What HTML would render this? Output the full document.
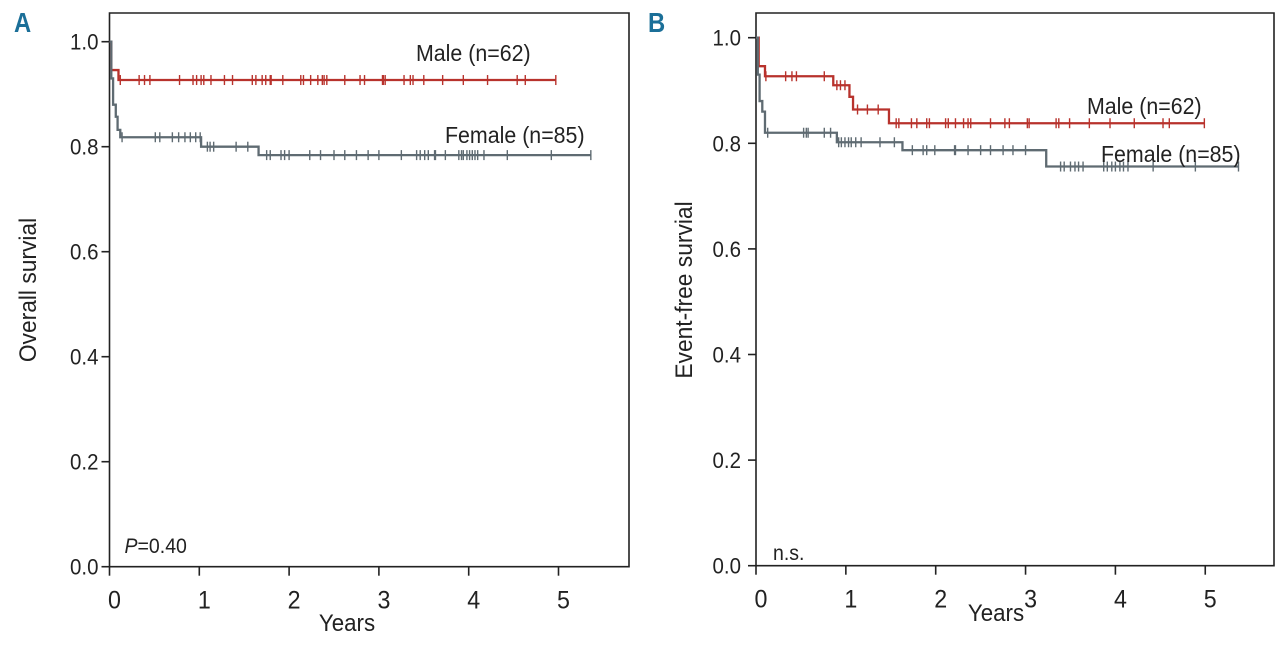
<!DOCTYPE html>
<html><head><meta charset="utf-8"><style>
body{margin:0;background:#fff;}
svg text{font-family:"Liberation Sans Narrow","Liberation Sans",sans-serif;fill:#222;}
</style></head><body>
<svg id="chart" width="1280" height="640" viewBox="0 0 1280 640" xmlns="http://www.w3.org/2000/svg"></svg>
<script>
// Panel A data (years, survival)
const aMaleSteps=[[0,1.0],[0.02,0.946],[0.1,0.927]];
const aMaleEnd=4.97;
const aMaleCensor=[0.12,0.33,0.39,0.45,0.78,0.93,0.97,1.02,1.05,1.13,1.28,1.37,1.59,1.63,1.70,1.74,1.79,1.80,1.93,2.13,2.16,2.24,2.32,2.37,2.39,2.42,2.62,2.79,2.84,3.04,3.05,3.07,3.28,3.35,3.38,3.50,3.71,3.94,4.21,4.54,4.63,4.97];
const aFemaleSteps=[[0,1.0],[0.02,0.93],[0.04,0.88],[0.07,0.857],[0.09,0.832],[0.12,0.818],[1.02,0.800],[1.66,0.784]];
const aFemaleEnd=5.36;
const aFemaleCensor=[0.14,0.51,0.56,0.70,0.77,0.84,0.90,0.96,1.01,1.09,1.12,1.16,1.41,1.54,1.75,1.79,1.91,1.95,2.00,2.23,2.35,2.50,2.62,2.75,2.88,3.00,3.25,3.42,3.46,3.51,3.55,3.62,3.63,3.74,3.89,3.92,3.94,3.98,4.01,4.04,4.07,4.10,4.17,4.43,4.92,5.36];
// Panel B data
const bMaleSteps=[[0,1.0],[0.03,0.946],[0.10,0.927],[0.86,0.910],[1.04,0.888],[1.08,0.864],[1.48,0.838]];
const bMaleEnd=4.99;
const bMaleCensor=[0.11,0.33,0.40,0.45,0.76,0.90,0.94,0.99,1.13,1.24,1.36,1.56,1.59,1.73,1.79,1.90,1.93,2.11,2.14,2.22,2.31,2.36,2.39,2.61,2.77,2.82,3.02,3.04,3.34,3.37,3.49,3.71,3.94,4.21,4.53,4.60,4.99];
const bFemaleSteps=[[0,1.0],[0.02,0.93],[0.04,0.88],[0.07,0.86],[0.10,0.820],[0.90,0.802],[1.63,0.787],[3.23,0.756]];
const bFemaleEnd=5.37;
const bFemaleCensor=[0.13,0.53,0.56,0.58,0.76,0.83,0.92,0.95,0.99,1.03,1.06,1.11,1.17,1.38,1.54,1.74,1.86,1.90,1.99,2.21,2.22,2.36,2.50,2.61,2.75,2.86,3.00,3.39,3.43,3.50,3.55,3.59,3.64,3.87,3.91,3.96,4.00,4.05,4.09,4.14,4.42,4.89,5.37];
const xTicks=[0,1,2,3,4,5];
const yTicks=[0.0,0.2,0.4,0.6,0.8,1.0];

const NS="http://www.w3.org/2000/svg";
const svg=document.getElementById('chart');
function mk(tag,attrs,parent){const e=document.createElementNS(NS,tag);for(const k in attrs)e.setAttribute(k,attrs[k]);(parent||svg).appendChild(e);return e;}
function txt(s,x,y,size,anchor,parent,extra,rot,sx){
  sx=sx||0.93;
  const tr=rot?`translate(${x},${y}) rotate(-90) scale(${sx},1)`:`translate(${x},${y}) scale(${sx},1)`;
  const t=mk('text',Object.assign({x:0,y:0,'font-size':size,'text-anchor':anchor||'start',transform:tr},extra||{}),parent);
  t.textContent=s;return t;}

function panel(o){
  const g=mk('g',{});
  
  
  const X=v=>o.x0+v*o.px;
  const Y=v=>o.y0-v*o.py;
  const frame=mk('path',{d:`M${o.x0},${o.top} H${o.right} V${o.y0} H${o.x0} Z`,fill:'none',stroke:'#222','stroke-width':1.6},g);
  
  
  yTicks.forEach(v=>{
    const l=mk('line',{x1:o.x0-8,x2:o.x0,y1:Y(v),y2:Y(v),stroke:'#222','stroke-width':1.6},g);
    
    
    const t=txt(v.toFixed(1),o.x0-o.tickGap,Y(v)+8,22,'end',g);
    
    
  });
  xTicks.forEach(v=>{
    const l=mk('line',{x1:X(v),x2:X(v),y1:o.y0,y2:o.y0+9,stroke:'#222','stroke-width':1.6},g);
    
    
    const t=txt(String(v),X(v)+5,o.y0+42,25,'middle',g);
    
    
  });
  const xt=txt('Years',o.xTitleX,o.xTitleY,24,'middle',g);
  
  
  const yt=txt(o.yTitle,o.yTitleX,290,24,'middle',g,null,true,0.95);
  
  
  o.series.forEach(s=>{
    let d='';
    s.steps.forEach((p,i)=>{
      if(i===0)d+=`M${X(p[0])},${Y(p[1])}`;
      else d+=` H${X(p[0])} V${Y(p[1])}`;
    });
    d+=` H${X(s.end)}`;
    const line=mk('path',{d:d,fill:'none',stroke:s.color,'stroke-width':2.3},g);
    
    
    const val=t=>{let v=s.steps[0][1];s.steps.forEach(p=>{if(p[0]<=t)v=p[1];});return v;};
    s.censor.forEach(t=>{
      const c=mk('line',{x1:X(t),x2:X(t),y1:Y(val(t))-5,y2:Y(val(t))+5,stroke:s.color,'stroke-width':1.4},g);
      
      
    });
    const lb=txt(s.label,s.lx,s.ly,23,'start',g);
    
    
  });
  const pl=mk('text',{x:0,y:0,'font-size':21,transform:`translate(${o.x0+o.pdx},${o.py0}) scale(0.93,1)`},g);
  
  
  pl.innerHTML=o.pText;
  const L=txt(o.letter,o.letterX,32,28,'start',g,{'font-weight':'bold',style:'fill:#1b6f98'},false,0.85);
  
  
}

panel({name:'panel-a-overall-survival',x0:109.5,y0:566.7,top:13,right:629,px:89.8,py:525,tickGap:11,
  yTitle:'Overall survial',yTitleX:36,xTitleX:347,xTitleY:631,letter:'A',letterX:14,
  pText:'<tspan font-style="italic">P</tspan>=0.40',pdx:15,py0:553,
  series:[
    {name:'male',steps:aMaleSteps,end:aMaleEnd,censor:aMaleCensor,color:'#b8322c',label:'Male (n=62)',lx:416,ly:61},
    {name:'female',steps:aFemaleSteps,end:aFemaleEnd,censor:aFemaleCensor,color:'#5f6b72',label:'Female (n=85)',lx:445,ly:143}
  ]});
panel({name:'panel-b-event-free-survival',x0:756,y0:565.7,top:13,right:1274,px:89.85,py:528,tickGap:15,
  yTitle:'Event-free survial',yTitleX:692,xTitleX:996,xTitleY:621,letter:'B',letterX:648,
  pText:'n.s.',pdx:17,py0:560,
  series:[
    {name:'male',steps:bMaleSteps,end:bMaleEnd,censor:bMaleCensor,color:'#b8322c',label:'Male (n=62)',lx:1087,ly:114},
    {name:'female',steps:bFemaleSteps,end:bFemaleEnd,censor:bFemaleCensor,color:'#5f6b72',label:'Female (n=85)',lx:1101,ly:162}
  ]});
</script>
</body></html>
